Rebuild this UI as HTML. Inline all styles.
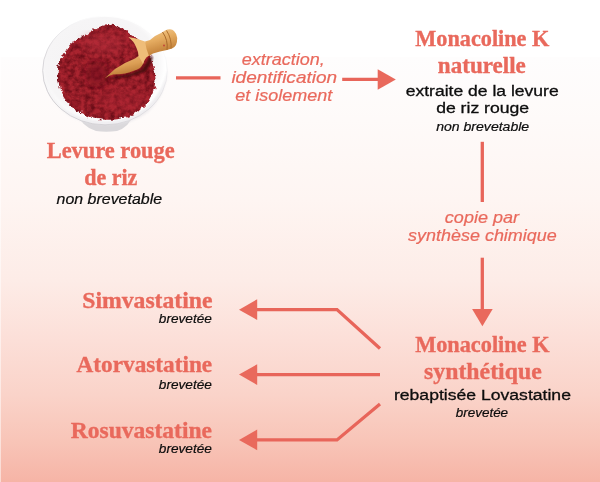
<!DOCTYPE html>
<html><head><meta charset="utf-8">
<style>
html,body{margin:0;padding:0;}
body{width:600px;height:482px;overflow:hidden;position:relative;
background:linear-gradient(to bottom,#ffffff 0px,#ffffff 57px,#fefdfd 57px,#fefaf9 120px,#fef5f2 200px,#fdece7 280px,#fcdfd8 340px,#fad3c9 395px,#f8c5b8 440px,#f6b4a6 482px);
font-family:"Liberation Sans",sans-serif;}
.x{position:absolute;white-space:nowrap;line-height:1;}
.h{font-family:"Liberation Serif",serif;font-weight:bold;color:#e9695c;-webkit-text-stroke:0.35px #e9695c;}
.i{font-family:"Liberation Sans",sans-serif;font-style:italic;color:#0d0d0d;-webkit-text-stroke:0.2px #0d0d0d;}
.a{font-family:"Liberation Sans",sans-serif;font-style:italic;color:#e9695c;-webkit-text-stroke:0.2px #e9695c;}
.b{font-family:"Liberation Sans",sans-serif;color:#0d0d0d;-webkit-text-stroke:0.3px #0d0d0d;}
svg{position:absolute;left:0;top:0;}
</style></head><body>
<svg width="600" height="482" viewBox="0 0 600 482">
<rect x="0" y="57" width="1" height="425" fill="#ffffff" opacity="0.5"/>
<defs>
<filter id="pw" x="-10%" y="-10%" width="120%" height="120%" color-interpolation-filters="sRGB">
<feTurbulence type="fractalNoise" baseFrequency="0.2" numOctaves="4" seed="11" result="n"/>
<feDisplacementMap in="SourceGraphic" in2="n" scale="6" xChannelSelector="R" yChannelSelector="G" result="d"/>
<feColorMatrix in="n" type="matrix" values="0 0 0 0 0.33  0 0 0 0 0.02  0 0 0 0 0.06  1.4 0 0 0 -0.43" result="shade"/>
<feComposite in="shade" in2="d" operator="in" result="sh"/>
<feColorMatrix in="n" type="matrix" values="0 0 0 0 0.74  0 0 0 0 0.19  0 0 0 0 0.22  0 1.3 0 0 -0.72" result="lite"/>
<feComposite in="lite" in2="d" operator="in" result="li"/>
<feMerge result="m"><feMergeNode in="d"/><feMergeNode in="sh"/></feMerge><feGaussianBlur in="m" stdDeviation="0.55"/>
</filter>
<filter id="bl05"><feGaussianBlur stdDeviation="0.4"/></filter>
<filter id="bl1"><feGaussianBlur stdDeviation="1"/></filter>
<filter id="bl2"><feGaussianBlur stdDeviation="2"/></filter>
<filter id="bl4"><feGaussianBlur stdDeviation="4"/></filter>
<radialGradient id="bowlg" cx="0.47" cy="0.45" r="0.56">
<stop offset="0" stop-color="#f3f2f3"/><stop offset="0.80" stop-color="#f6f5f6"/><stop offset="0.92" stop-color="#ffffff"/><stop offset="1" stop-color="#fbfafb"/>
</radialGradient>
<linearGradient id="wood" x1="0" y1="0" x2="0.35" y2="1">
<stop offset="0" stop-color="#f4cf97"/><stop offset="0.45" stop-color="#e6ad62"/><stop offset="1" stop-color="#bd7a33"/>
</linearGradient>
<linearGradient id="wood2" x1="0" y1="0" x2="0.4" y2="1">
<stop offset="0" stop-color="#f0c080"/><stop offset="0.55" stop-color="#dc9f55"/><stop offset="1" stop-color="#b06e2c"/>
</linearGradient>
<linearGradient id="edge" x1="0.1" y1="0.95" x2="0.6" y2="0.05"><stop offset="0" stop-color="#bfbdc1"/><stop offset="0.5" stop-color="#d9d7db"/><stop offset="0.85" stop-color="#f6f6f7"/><stop offset="1" stop-color="#ffffff"/></linearGradient>
<clipPath id="pc"><ellipse cx="106.500" cy="72.500" rx="50" ry="49"/></clipPath>
</defs>
<g id="bowl">
<!-- foot -->
<path d="M76,112 Q82,127 96,131 Q106,132.500 117,131 Q129,127.500 135,112 Z" fill="#dad8db"/>

<!-- body -->
<ellipse cx="105" cy="70.500" rx="62.300" ry="54.300" fill="url(#bowlg)" stroke="url(#edge)" stroke-width="0.9"/>
<path d="M167.500,70 Q166,96 147,113 Q130,126 105,125 Q80,125 62,110 Q46,95 42.500,72 Q48,98 66,110 Q84,121 105,121 Q128,121 145,108 Q162,94 167.500,70 Z" fill="#e6e4e8" opacity="0.6" filter="url(#bl1)"/>
<!-- powder -->
<g filter="url(#pw)">
<path d="M115,25 Q106,24 97.500,27.500 Q90,31 85,35 Q78,38 72.500,42.500 Q67,47 65,52.500 Q60,58 58.700,65 Q57,72 58,80 Q59,88 62.500,95 Q66,102 72.500,107.500 Q78,112 85,115 Q93,119 102.500,119.500 Q111,120.500 120,118.700 Q128,117 135,113.700 Q142,109 147.500,102.500 Q152,95 154.500,87.500 Q156,80 155,72.500 Q154,66 151,60 Q148,50 142,43 Q137,38 131,35 Q127,31 122.500,28.700 Q119,26 115,25 Z" fill="#a9242f"/>
</g>
<g clip-path="url(#pc)">
<ellipse cx="97" cy="74" rx="11" ry="13" fill="#74101b" opacity="0.6" filter="url(#bl4)"/>
<ellipse cx="104" cy="44" rx="22" ry="11" fill="#c03642" opacity="0.4" filter="url(#bl4)"/>
<ellipse cx="122" cy="100" rx="25" ry="12" fill="#b52c38" opacity="0.35" filter="url(#bl4)"/>
<path d="M104,80 Q114,76 125,75 Q136,72 142,69 Q146,64 149,57 L153,56 Q151,66 145,72 Q130,78 104,80 Z" fill="#4a0810" opacity="0.95" filter="url(#bl1)"/>
</g>
<!-- scoop --><g filter="url(#bl05)">
<path d="M104.500,78.500 Q109,75.500 113,74.500 Q119,74.300 125,73.500 Q129,72.500 133,71 Q137,69.800 140,68 Q142,66 143,64 L144.500,60 Q146,57.500 148,56 L152,53.500 L138.500,56 L135,58.500 L125,63 L115,69 Z" fill="url(#wood2)"/>
<path d="M128.500,37 L136,38.500 L145,41.500 Q148,47 152,53.500 Q148,56 146,57.500 L144.500,60 L143,64 Q141,60 138.500,56 Q138.500,52 136.500,48 Q135,44 133,41.500 Z" fill="#efbd79"/>
<path d="M145,41.500 L150,40 L155,36 L162,32.500 L165,30.500 Q167.500,29.300 170,29.200 Q172.500,29.500 174,31 Q177,34 177.200,38 Q177.300,42 176,45 Q174.500,47.500 172,48.500 L167,50 L160,51.500 L153,53.500 L149,56 Q146,49 145,41.500 Z" fill="url(#wood)"/>
<path d="M162.500,32 Q168.300,40 167,50" stroke="#a8692b" stroke-width="1" fill="none"/>
<path d="M166.500,30.500 Q172,39 171,48.600" stroke="#b0702d" stroke-width="1" fill="none"/>
<circle cx="164" cy="45.500" r="1" fill="#c4473a"/>
</g>
</g>

<g stroke="#e8655a" stroke-width="3.3" fill="none" stroke-linejoin="miter">
<line x1="176" y1="77.900" x2="220.500" y2="77.900"/>
<line x1="342.200" y1="79.300" x2="379" y2="79.300"/>
<line x1="482.300" y1="141.800" x2="482.300" y2="202"/>
<line x1="482.300" y1="257.700" x2="482.300" y2="310"/>
<polyline points="380,348.500 337,309.650 256,309.650"/>
<line x1="380" y1="374.600" x2="256" y2="374.600"/>
<polyline points="380,404 337,439.900 256,439.900"/>
</g>
<g fill="#e9695c">
<polygon points="377.700,69.200 395.800,79.500 377.700,89.800"/>
<polygon points="472.100,309 492.700,309 482.400,326.200"/>
<polygon points="239,309.650 257.200,299.300 257.200,320"/>
<polygon points="239,374.600 257.200,364.300 257.200,385"/>
<polygon points="239,439.900 257.200,429.600 257.200,450.300"/>
</g>

</svg>
<div class="x h" style="left:44.55px;top:138.74px;font-size:23px;transform:scaleX(0.9742);transform-origin:50% 50%;">Levure rouge</div>
<div class="x h" style="left:82.62px;top:165.74px;font-size:23px;transform:scaleX(0.9584);transform-origin:50% 50%;">de riz</div>
<div class="x h" style="left:413.08px;top:27.04px;font-size:23px;transform:scaleX(0.9665);transform-origin:50% 50%;">Monacoline K</div>
<div class="x h" style="left:438.33px;top:54.04px;font-size:23px;transform:scaleX(1.0030);transform-origin:50% 50%;">naturelle</div>
<div class="x h" style="left:413.48px;top:333.04px;font-size:23px;transform:scaleX(0.9687);transform-origin:50% 50%;">Monacoline K</div>
<div class="x h" style="left:425.93px;top:359.74px;font-size:23px;transform:scaleX(1.0347);transform-origin:50% 50%;">synthétique</div>
<div class="x h" style="left:85.80px;top:288.74px;font-size:23px;transform:scaleX(1.0300);transform-origin:100% 50%;">Simvastatine</div>
<div class="x h" style="left:78.16px;top:353.44px;font-size:23px;transform:scaleX(1.0109);transform-origin:100% 50%;">Atorvastatine</div>
<div class="x h" style="left:74.28px;top:418.74px;font-size:23px;transform:scaleX(1.0238);transform-origin:100% 50%;">Rosuvastatine</div>
<div class="x i" style="left:63.43px;top:192.40px;font-size:14px;transform:scaleX(1.1388);transform-origin:50% 50%;">non brevetable</div>
<div class="x i" style="left:441.82px;top:120.59px;font-size:12.3px;transform:scaleX(1.1431);transform-origin:50% 50%;">non brevetable</div>
<div class="x i" style="left:458.27px;top:407.29px;font-size:12.3px;transform:scaleX(1.0928);transform-origin:50% 50%;">brevetée</div>
<div class="x i" style="left:164.44px;top:312.89px;font-size:12.3px;transform:scaleX(1.1074);transform-origin:100% 50%;">brevetée</div>
<div class="x i" style="left:164.44px;top:378.59px;font-size:12.3px;transform:scaleX(1.1074);transform-origin:100% 50%;">brevetée</div>
<div class="x i" style="left:164.44px;top:442.89px;font-size:12.3px;transform:scaleX(1.1074);transform-origin:100% 50%;">brevetée</div>
<div class="x a" style="left:244.28px;top:50.61px;font-size:17px;transform:scaleX(1.0582);transform-origin:50% 50%;">extraction,</div>
<div class="x a" style="left:236.64px;top:69.36px;font-size:17px;transform:scaleX(1.1189);transform-origin:50% 50%;">identification</div>
<div class="x a" style="left:238.16px;top:87.11px;font-size:17px;transform:scaleX(1.0581);transform-origin:50% 50%;">et isolement</div>
<div class="x a" style="left:447.48px;top:208.81px;font-size:17px;transform:scaleX(1.0624);transform-origin:50% 50%;">copie par</div>
<div class="x a" style="left:411.59px;top:227.21px;font-size:17px;transform:scaleX(1.0564);transform-origin:50% 50%;">synthèse chimique</div>
<div class="x b" style="left:415.04px;top:82.62px;font-size:15.4px;transform:scaleX(1.1390);transform-origin:50% 50%;">extraite de la levure</div>
<div class="x b" style="left:441.81px;top:99.86px;font-size:15.4px;transform:scaleX(1.1442);transform-origin:50% 50%;">de riz rouge</div>
<div class="x b" style="left:405.06px;top:386.96px;font-size:15.4px;transform:scaleX(1.1429);transform-origin:50% 50%;">rebaptisée Lovastatine</div>
</body></html>
